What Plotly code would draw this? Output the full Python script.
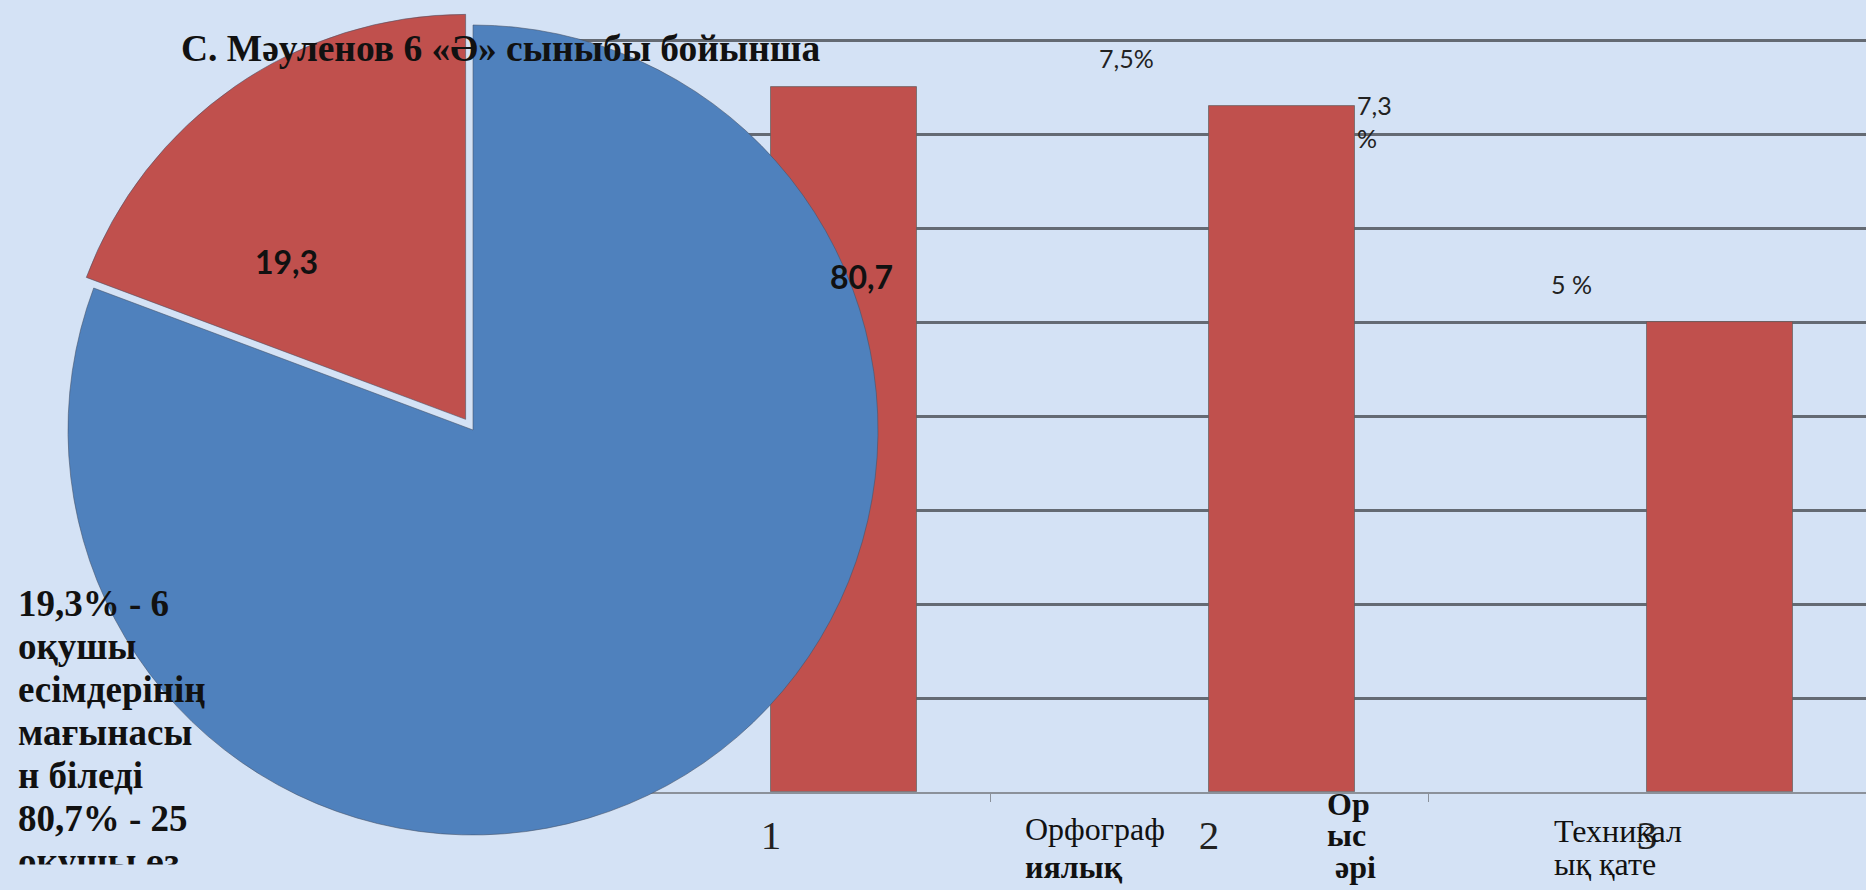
import plotly.graph_objects as go

# ---------------- data ----------------
categories = ["1", "2", "3"]
bar_values = [7.5, 7.3, 5.0]
bar_labels = ["7,5%", "7,3<br>%", "5 %"]

pie_labels = ["80,7%", "19,3%"]
pie_values = [80.7, 19.3]

title_text = "С. Мәуленов 6 «Ә» сыныбы бойынша"
side_lines = ["19,3% - 6", "оқушы", "есімдерінің", "мағынасы",
              "н біледі", "80,7% - 25", "оқушы өз"]

# ---------------- style ----------------
W, H = 1866, 890
BG = "#d4e2f5"
RED = "#c0504d"
BLUE = "#4f81bd"
GRID = "#646a73"
SERIF = "Liberation Serif, Times New Roman, serif"
SANS = "Lato, Open Sans, sans-serif"


def px(x):
    return x / W


def py(y):
    return 1 - y / H


fig = go.Figure()

fig.add_trace(go.Bar(
    x=categories, y=bar_values,
    marker=dict(color=RED, line=dict(color="rgba(95,95,95,0.7)", width=1)),
    offset=0, width=0.333,
    hoverinfo="skip", showlegend=False,
))

# pie (drawn above the cartesian layer)
r_pie = 405
pull = 0.032
half = r_pie * (1 + pull)
cx, cy = 473, 430
fig.add_trace(go.Pie(
    labels=pie_labels, values=pie_values,
    marker=dict(colors=[BLUE, RED], line=dict(color="rgba(70,80,100,0.55)", width=1)),
    pull=[0, pull], sort=False, rotation=0,
    textinfo="none", hoverinfo="skip", showlegend=False,
    domain=dict(x=[px(cx - half), px(cx + half)], y=[py(cy + half), py(cy - half)]),
))

annotations = []

# title
annotations.append(dict(text=f"<b>{title_text}</b>", x=px(179), y=py(49),
                        xref="paper", yref="paper", xanchor="left", yanchor="middle",
                        showarrow=False, font=dict(family=SERIF, size=37.5, color="#111")))

# side text block
for i, line in enumerate(side_lines):
    base = 615 + 43 * i
    annotations.append(dict(text=f"<b>{line}</b>", x=px(16), y=py(base - 12),
                            xref="paper", yref="paper", xanchor="left", yanchor="middle",
                            showarrow=False, font=dict(family=SERIF, size=37, color="#111")))
# bottom of the slide clips the last line
annotations.append(dict(text=" ", x=0, y=py(864), xref="paper", yref="paper",
                        xanchor="left", yanchor="top", width=300, height=30,
                        bgcolor=BG, showarrow=False, borderpad=0))

# pie value labels
pie_pos = {19.3: (286, 261), 80.7: (861, 276)}
for v in pie_values:
    lx, ly = pie_pos[v]
    annotations.append(dict(text="<b>" + f"{v:.1f}".replace(".", ",") + "</b>",
                            x=px(lx), y=py(ly), xref="paper", yref="paper",
                            xanchor="center", yanchor="middle", showarrow=False,
                            font=dict(family=SANS, size=32, color="#111")))

# bar value labels (placed relative to each bar through the axes)
label_shift = [(355, 29, "center"), (146, -16, "left"), (-76, 38, "center")]
for i, (v, t, (xs, ys, xa)) in enumerate(zip(bar_values, bar_labels, label_shift)):
    annotations.append(dict(text=t, x=i, y=v, xref="x", yref="y",
                            xshift=xs, yshift=ys, xanchor=xa, yanchor="middle",
                            align="left", showarrow=False,
                            font=dict(family=SANS, size=25, color="#222")))

# category captions
captions = [
    ("Орфограф", 0, 252, 840, False),
    ("иялық", 0, 252, 878, True),
    ("Ор", 1, 116, 815, True),
    ("ыс", 1, 116, 846, True),
    (" әрі", 1, 116, 878, True),
    ("Техникал", 2, -95, 842, False),
    ("ық қате", 2, -95, 875, False),
]
for txt, ci, xs, base, bold in captions:
    annotations.append(dict(text=(f"<b>{txt}</b>" if bold else txt),
                            x=ci, y=py(base - 11), xref="x", yref="paper",
                            xshift=xs, xanchor="left", yanchor="middle", showarrow=False,
                            font=dict(family=SERIF, size=32, color="#111")))

top_px = 40 - 0.02 * 94
fig.update_layout(
    width=W, height=H,
    margin=dict(l=0, r=0, t=0, b=0),
    paper_bgcolor=BG, plot_bgcolor="rgba(0,0,0,0)",
    bargap=0,
    xaxis=dict(type="category", domain=[px(552), 1], range=[-0.5, 2.5],
               showgrid=False, showline=True, linecolor="#8b919a", linewidth=2,
               ticks="outside", tickson="boundaries", ticklen=8, tickcolor="#8b919a",
               tickwidth=1, ticklabelstandoff=6,
               tickfont=dict(family=SERIF, size=41, color="#222"), fixedrange=True),
    yaxis=dict(range=[0, 8.02], dtick=1, domain=[py(792), py(top_px)],
               showgrid=True, gridcolor=GRID, gridwidth=2.5, zeroline=False,
               showticklabels=False, ticks="", fixedrange=True),
    annotations=annotations,
)

fig.write_html("out.html", config={"displayModeBar": False},
               post_script="document.body.style.margin='0';document.body.style.overflow='hidden';")
